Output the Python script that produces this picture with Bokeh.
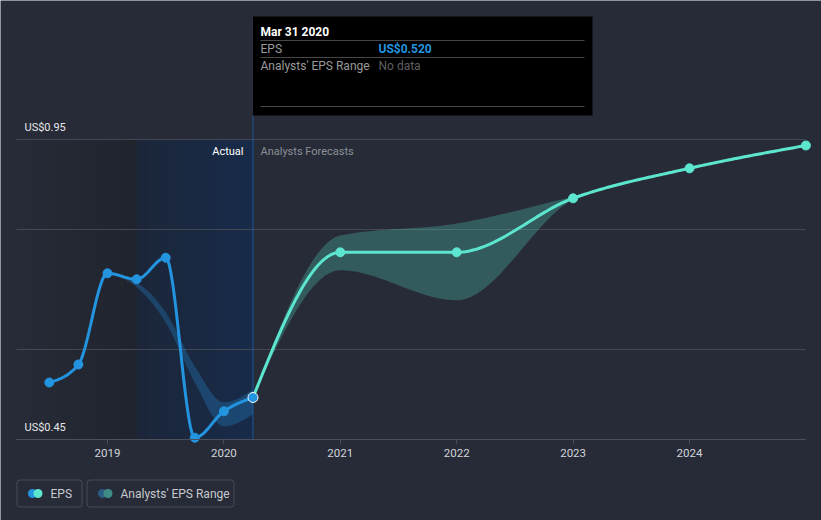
import numpy as np
from bokeh.plotting import figure
from bokeh.models import Range1d, FixedTicker
from bokeh.embed import file_html
from bokeh.resources import INLINE
from bokeh.core.properties import value

# ---------------- data ----------------
actual_dates = [2018.5, 2018.75, 2019.0, 2019.25, 2019.5, 2019.75, 2020.0, 2020.25]
actual_eps = [0.545, 0.575, 0.727, 0.717, 0.753, 0.453, 0.497, 0.520]

past_range_dates = [2019.0, 2019.25, 2019.5, 2019.75, 2020.0, 2020.25]
past_range_high = [0.727, 0.712, 0.662, 0.572, 0.512, 0.533]
past_range_low = [0.727, 0.704, 0.645, 0.545, 0.472, 0.492]

forecast_dates = [2020.25, 2021.0, 2022.0, 2023.0, 2024.0, 2025.0]
forecast_eps = [0.520, 0.762, 0.762, 0.852, 0.902, 0.940]
forecast_high = [0.520, 0.790, 0.810, 0.855, 0.905, 0.942]
forecast_low = [0.520, 0.732, 0.682, 0.850, 0.900, 0.938]

year_ticks = [2019, 2020, 2021, 2022, 2023, 2024]
grid_values = [0.45, 0.6, 0.8, 0.95]
y_label_values = [0.95, 0.45]
y_label_texts = ["US$0.95", "US$0.45"]
highlight_start = 2019.25
highlight_end = 2020.25

tooltip_date = "Mar 31 2020"
tooltip_eps = "US$0.520"
legend_labels = ["EPS", "Analysts' EPS Range"]

# ---------------- layout helpers (page pixels -> data) ----------------
BG = "#262b37"
FONT = value("Roboto")
PX_PER_YEAR = 116.4
X0_PAGE, YEAR0 = 107.0, 2019.0
Y0_PAGE, VAL0, PX_PER_UNIT = 439.0, 0.45, 600.0


def X(px):
    return YEAR0 + (px - X0_PAGE) / PX_PER_YEAR


def Y(py):
    return VAL0 + (Y0_PAGE - py) / PX_PER_UNIT


def monotone(xs, ys, n=40):
    xs = np.asarray(xs, float)
    ys = np.asarray(ys, float)
    N = len(xs)
    h = np.diff(xs)
    s = np.diff(ys) / h
    m = np.zeros(N)
    for i in range(1, N - 1):
        h0, h1, s0, s1 = h[i - 1], h[i], s[i - 1], s[i]
        p_ = (s0 * h1 + s1 * h0) / (h0 + h1)
        sg = (-1 if s0 < 0 else 1) + (-1 if s1 < 0 else 1)
        m[i] = sg * min(abs(s0), abs(s1), 0.5 * abs(p_))
    if N > 2:
        m[0] = (3 * s[0] - m[1]) / 2
        m[-1] = (3 * s[-1] - m[-2]) / 2
    else:
        m[:] = s[0]
    ox, oy = [], []
    for i in range(N - 1):
        t = np.linspace(0, 1, n, endpoint=(i == N - 2))
        hh = h[i]
        h00 = 2 * t**3 - 3 * t**2 + 1
        h10 = t**3 - 2 * t**2 + t
        h01 = -2 * t**3 + 3 * t**2
        h11 = t**3 - t**2
        ox.extend(xs[i] + t * hh)
        oy.extend(h00 * ys[i] + h10 * hh * m[i] + h01 * ys[i + 1] + h11 * hh * m[i + 1])
    return np.array(ox), np.array(oy)


def lerp_color(c1, c2, t):
    return "#%02x%02x%02x" % tuple(int(round(a + (b - a) * t)) for a, b in zip(c1, c2))


# ---------------- figure ----------------
W, H = 821, 520
PLOT_LEFT, PLOT_RIGHT = X(16), X(805)
p = figure(width=W, height=H, output_backend="svg", toolbar_location=None,
           x_range=Range1d(X(0), X(W)), y_range=Range1d(Y(H), Y(0)),
           y_axis_location=None, min_border=0)
p.background_fill_color = BG
p.border_fill_color = BG
p.outline_line_color = None
p.xgrid.visible = False
p.ygrid.visible = False

# shaded backgrounds (gradient strips)
n_strips = 30
lx = np.linspace(PLOT_LEFT, highlight_start, n_strips + 1)
for i in range(n_strips):
    c = lerp_color((38, 43, 55), (32, 36, 45), i / (n_strips - 1))
    p.quad(left=lx[i], right=lx[i + 1] + 0.004, bottom=0.45, top=0.95, fill_color=c, line_color=None)
bx = np.linspace(highlight_start, highlight_end, n_strips + 1)
for i in range(n_strips):
    c = lerp_color((28, 38, 57), (23, 43, 74), i / (n_strips - 1))
    p.quad(left=bx[i], right=bx[i + 1] + (0.004 if i < n_strips - 1 else 0), bottom=0.45, top=0.95,
           fill_color=c, line_color=None)

# horizontal grid lines limited to the plot area
p.segment(x0=[PLOT_LEFT] * len(grid_values), x1=[PLOT_RIGHT] * len(grid_values),
          y0=grid_values, y1=grid_values, line_color="#434853", line_width=1)

# x axis, fixed at the bottom value line
ax = p.xaxis[0]
ax.fixed_location = VAL0
ax.bounds = (PLOT_LEFT, PLOT_RIGHT)
ax.ticker = FixedTicker(ticks=year_ticks)
ax.axis_line_color = "#4b505b"
ax.major_tick_line_color = "#4b505b"
ax.major_tick_out = 4
ax.major_tick_in = 0
ax.minor_tick_line_color = None
ax.major_label_standoff = 5
ax.major_label_text_color = "#d3d5da"
ax.major_label_text_font = "Roboto"
ax.major_label_text_font_size = "11.5px"

# separator line at the last actual date
p.segment(x0=[highlight_end], y0=[Y(115)], x1=[highlight_end], y1=[VAL0],
          line_color="#1e5596", line_width=1)

# past analyst range band
px_, ph = monotone(past_range_dates, past_range_high)
_, pl = monotone(past_range_dates, past_range_low)
p.patch(np.concatenate([px_, px_[::-1]]), np.concatenate([ph, pl[::-1]]),
        fill_color="#2394df", fill_alpha=0.28, line_color=None)

# forecast range band
fx, fh = monotone(forecast_dates, forecast_high)
_, fl = monotone(forecast_dates, forecast_low)
p.patch(np.concatenate([fx, fx[::-1]]), np.concatenate([fh, fl[::-1]]),
        fill_color="#5de6cf", fill_alpha=0.25, line_color=None)

# lines
ax_, ay_ = monotone(actual_dates, actual_eps)
p.line(ax_, ay_, line_color="#2394df", line_width=3)
fx2, fy2 = monotone(forecast_dates, forecast_eps)
p.line(fx2, fy2, line_color="#5de6cf", line_width=3)

# markers
p.scatter(actual_dates[:-1], actual_eps[:-1], size=9, fill_color="#2394df", line_color="#2394df")
p.scatter(forecast_dates[1:], forecast_eps[1:], size=9, fill_color="#5de6cf", line_color="#5de6cf")
p.scatter(actual_dates[-1:], actual_eps[-1:], size=10, fill_color="#2394df", line_color="white", line_width=1)

# y labels
p.text(x=[X(24)] * 2, y=[v + 12 / PX_PER_UNIT for v in y_label_values], text=y_label_texts,
       text_font=FONT, text_font_size="11px", text_color="#e6e7ea", text_baseline="middle", text_align="left")

# Actual / Forecast labels
p.text(x=[X(243)], y=[Y(151)], text=["Actual"], text_font=FONT, text_font_size="11px",
       text_color="#ffffff", text_baseline="middle", text_align="right")
p.text(x=[X(260)], y=[Y(151)], text=["Analysts Forecasts"], text_font=FONT, text_font_size="11px",
       text_color="#8b8f98", text_baseline="middle", text_align="left")

# tooltip
p.quad(left=highlight_end, right=X(592), top=Y(16), bottom=Y(115), fill_color="#000000", line_color=None)
p.segment(x0=[X(260)] * 3, x1=[X(584)] * 3, y0=[Y(40), Y(57), Y(106)], y1=[Y(40), Y(57), Y(106)],
          line_color="#474747", line_width=1)
p.text(x=[X(260)], y=[Y(31)], text=[tooltip_date], text_font=FONT, text_font_size="12px",
       text_font_style="bold", text_color="#ffffff", text_baseline="middle")
p.text(x=[X(260), X(260)], y=[Y(48), Y(65)], text=["EPS", "Analysts' EPS Range"], text_font=FONT,
       text_font_size="12px", text_color="#9a9a9a", text_baseline="middle")
p.text(x=[X(378)], y=[Y(48)], text=[tooltip_eps], text_font=FONT, text_font_size="12px",
       text_font_style="bold", text_color="#2394df", text_baseline="middle")
p.text(x=[X(378)], y=[Y(65)], text=["No data"], text_font=FONT, text_font_size="12px",
       text_color="#5f5f5f", text_baseline="middle")

# legend (boxes, icons, labels)
p.quad(left=[X(16.5), X(86.5)], right=[X(81.5), X(233.5)], top=[Y(479.5)] * 2, bottom=[Y(506.5)] * 2,
       fill_color=None, line_color="#464b56", line_width=1, border_radius=3)
p.scatter([X(32), X(102)], [Y(493)] * 2, size=9, fill_color=["#2394df", "#2c5b84"], line_color=None)
p.scatter([X(37.5), X(107.5)], [Y(493)] * 2, size=9, fill_color=["#5de6cf", "#3f8c86"], line_color=None)
p.text(x=[X(50), X(120)], y=[Y(493)] * 2, text=legend_labels, text_font=FONT,
       text_font_size="12px", text_color="#c6c9cf", text_baseline="middle")

open("out.html", "w").write(file_html(p, INLINE))
